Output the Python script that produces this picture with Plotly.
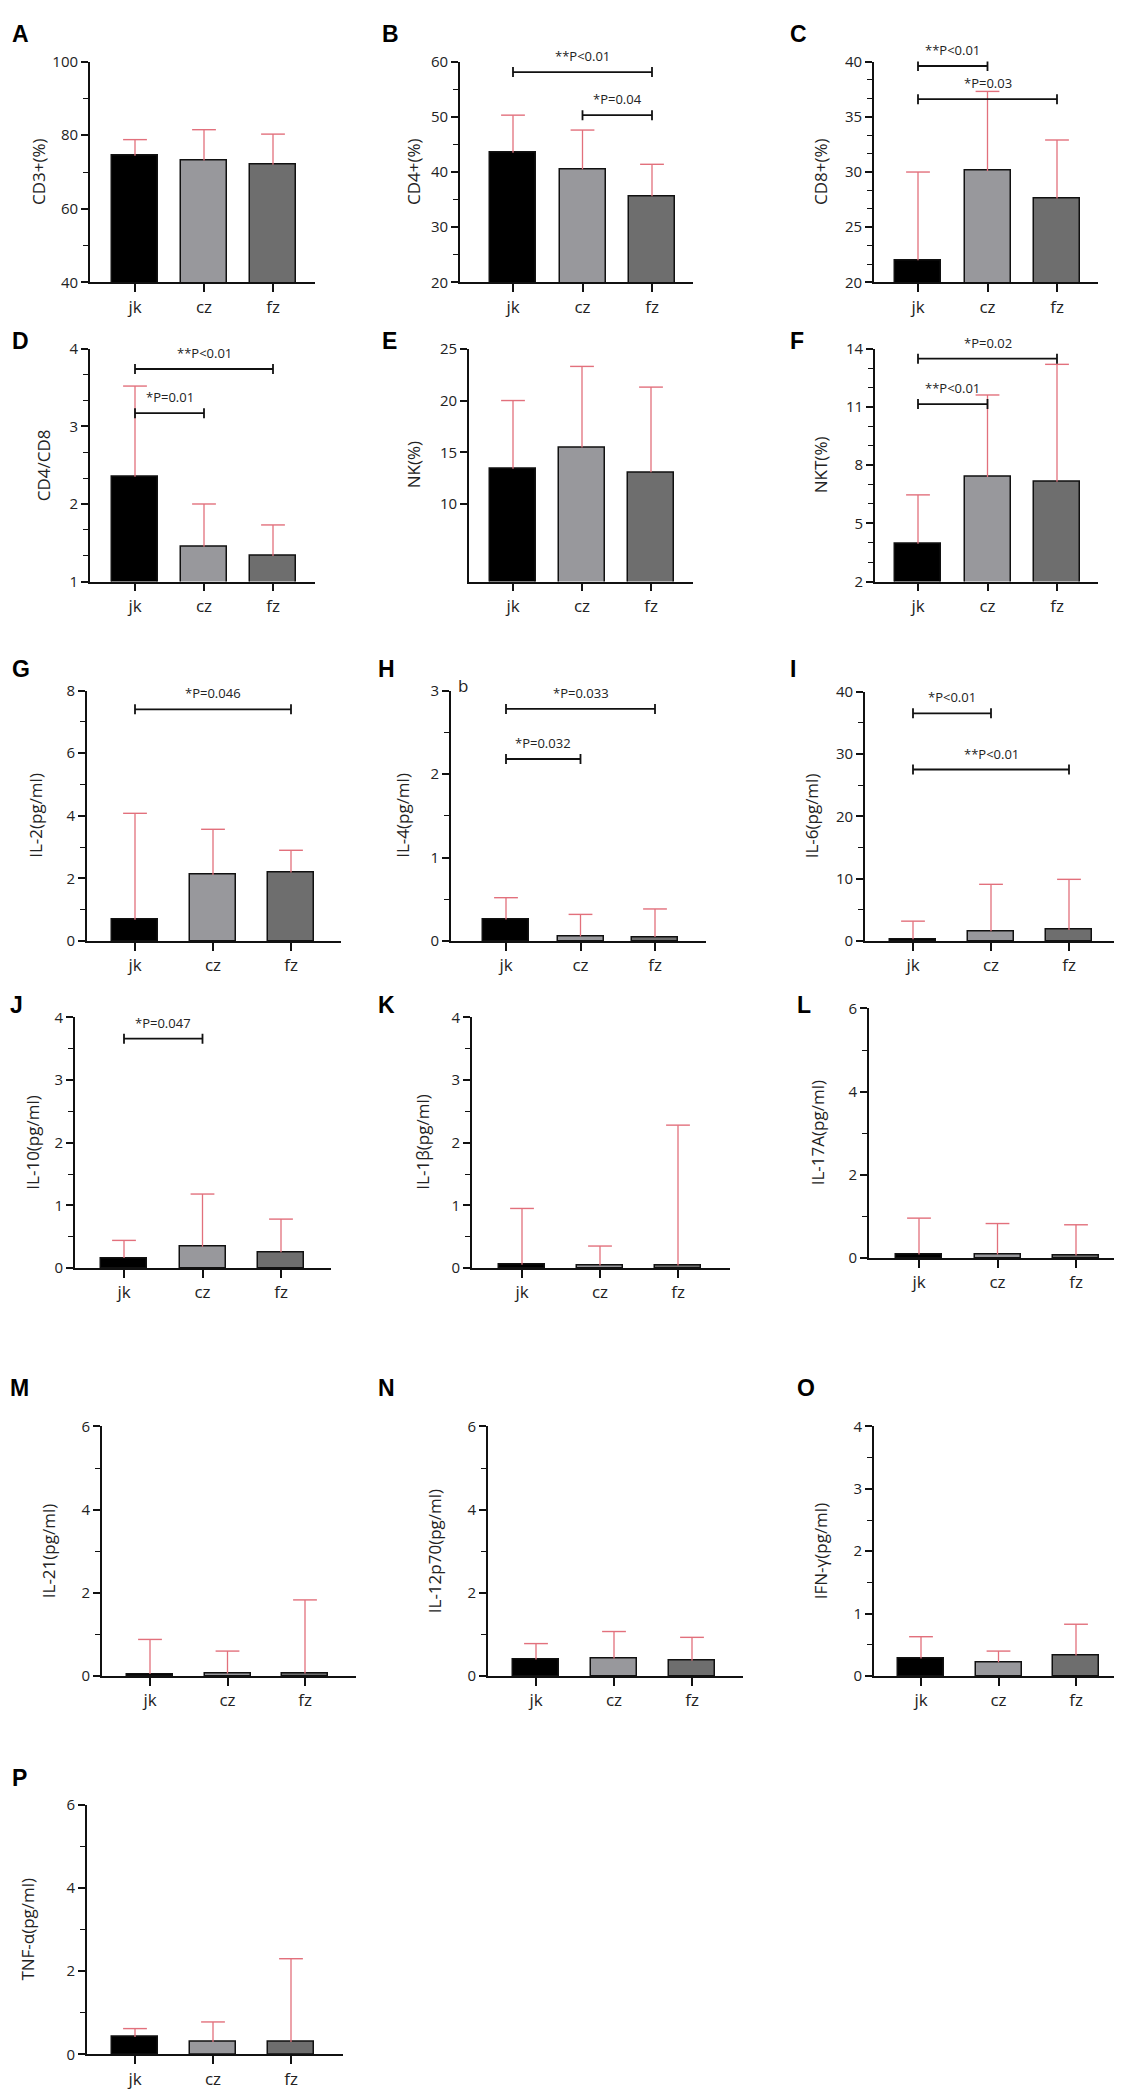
import plotly.graph_objects as go

W, H = 1122, 2096
FONT = "Open Sans"

categories = ["jk", "cz", "fz"]
bar_colors = ["#000000", "#98989c", "#6e6e6e"]
err_color = "#e2707c"

panel_letters = ["A", "B", "C", "D", "E", "F", "G", "H", "I", "J", "K", "L", "M", "N", "O", "P"]
y_titles = ["CD3+(%)", "CD4+(%)", "CD8+(%)", "CD4/CD8", "NK(%)", "NKT(%)",
            "IL-2(pg/ml)", "IL-4(pg/ml)", "IL-6(pg/ml)", "IL-10(pg/ml)", "IL-1β(pg/ml)",
            "IL-17A(pg/ml)", "IL-21(pg/ml)", "IL-12p70(pg/ml)", "IFN-γ(pg/ml)", "TNF-α(pg/ml)"]

# mean values (jk, cz, fz) and SD (upper error) per panel
mean_A = [74.4, 73.1, 72.0];   sd_A = [4.4, 8.4, 8.3]
mean_B = [43.5, 40.5, 35.6];   sd_B = [6.8, 7.1, 5.8]
mean_C = [22.0, 30.1, 27.6];   sd_C = [8.0, 7.2, 5.3]
mean_D = [2.35, 1.45, 1.33];   sd_D = [1.17, 0.55, 0.40]
mean_E = [13.4, 15.45, 13.06]; sd_E = [6.6, 7.85, 8.24]
mean_F = [3.95, 7.39, 7.15];   sd_F = [2.52, 4.23, 6.05]
mean_G = [0.68, 2.11, 2.19];   sd_G = [3.40, 1.46, 0.71]
mean_H = [0.26, 0.056, 0.048]; sd_H = [0.26, 0.264, 0.337]
mean_I = [0.3, 1.6, 1.8];      sd_I = [2.9, 7.5, 8.1]
mean_J = [0.16, 0.34, 0.25];   sd_J = [0.28, 0.84, 0.53]
mean_K = [0.05, 0.04, 0.04];   sd_K = [0.90, 0.31, 2.24]
mean_L = [0.087, 0.087, 0.06]; sd_L = [0.873, 0.743, 0.74]
mean_M = [0.05, 0.06, 0.06];   sd_M = [0.83, 0.54, 1.77]
mean_N = [0.40, 0.42, 0.37];   sd_N = [0.38, 0.65, 0.56]
mean_O = [0.28, 0.22, 0.33];   sd_O = [0.35, 0.18, 0.50]
mean_P = [0.42, 0.30, 0.30];   sd_P = [0.20, 0.48, 2.0]

# y-axis ranges and tick steps
y_range = {"A": [40, 100], "B": [20, 60], "C": [20, 40], "D": [1, 4], "E": [2.5, 25],
           "F": [2, 14], "G": [0, 8], "H": [0, 3], "I": [0, 40], "J": [0, 4], "K": [0, 4],
           "L": [0, 6], "M": [0, 6], "N": [0, 6], "O": [0, 4], "P": [0, 6]}
y_dtick = {"A": 20, "B": 10, "C": 5, "D": 1, "E": 5, "F": 3, "G": 2, "H": 1, "I": 10,
           "J": 1, "K": 1, "L": 2, "M": 2, "N": 2, "O": 1, "P": 2}
y_minor = {"A": 10, "B": 5, "C": 5 / 3, "D": 1 / 3, "E": None, "F": 1, "G": 1, "H": 0.5,
           "I": 5, "J": 0.5, "K": 0.5, "L": 1, "M": 1, "N": 1, "O": 0.5, "P": 1}
y_tickvals = {"E": [10, 15, 20, 25]}

# significance brackets: (group i, group j, y level, label)
brackets_B = [(0, 2, 58.1, "**P<0.01"), (1, 2, 50.3, "*P=0.04")]
brackets_C = [(0, 1, 39.6, "**P<0.01"), (0, 2, 36.6, "*P=0.03")]
brackets_D = [(0, 2, 3.74, "**P<0.01"), (0, 1, 3.17, "*P=0.01")]
brackets_F = [(0, 2, 13.49, "*P=0.02"), (0, 1, 11.15, "**P<0.01")]
brackets_G = [(0, 2, 7.4, "*P=0.046")]
brackets_H = [(0, 2, 2.78, "*P=0.033"), (0, 1, 2.18, "*P=0.032")]
brackets_I = [(0, 1, 36.5, "*P<0.01"), (0, 2, 27.5, "**P<0.01")]
brackets_J = [(0, 1, 3.66, "*P=0.047")]

means = {"A": mean_A, "B": mean_B, "C": mean_C, "D": mean_D, "E": mean_E, "F": mean_F,
         "G": mean_G, "H": mean_H, "I": mean_I, "J": mean_J, "K": mean_K, "L": mean_L,
         "M": mean_M, "N": mean_N, "O": mean_O, "P": mean_P}
sds = {"A": sd_A, "B": sd_B, "C": sd_C, "D": sd_D, "E": sd_E, "F": sd_F,
       "G": sd_G, "H": sd_H, "I": sd_I, "J": sd_J, "K": sd_K, "L": sd_L,
       "M": sd_M, "N": sd_N, "O": sd_O, "P": sd_P}
brackets = {"B": brackets_B, "C": brackets_C, "D": brackets_D, "F": brackets_F,
            "G": brackets_G, "H": brackets_H, "I": brackets_I, "J": brackets_J}

# layout geometry (pixels)
geom = {
    "A": dict(x0=82, x1=307, c0=127, c2=265, top=43, bot=266, tx=30, lx=2, ly=15),
    "B": dict(x0=452, x1=685, c0=505, c2=644, top=43, bot=266, tx=405, lx=372, ly=15),
    "C": dict(x0=866, x1=1090, c0=910, c2=1049, top=43, bot=266, tx=812, lx=780, ly=15),
    "D": dict(x0=82, x1=307, c0=127, c2=265, top=333, bot=568, tx=35, lx=2, ly=325),
    "E": dict(x0=461, x1=685, c0=505, c2=643, top=333, bot=568, tx=405, lx=372, ly=325),
    "F": dict(x0=867, x1=1090, c0=910, c2=1049, top=333, bot=568, tx=812, lx=780, ly=325),
    "G": dict(x0=79, x1=333, c0=127, c2=283, top=678, bot=931, tx=28, lx=2, ly=656),
    "H": dict(x0=443, x1=698, c0=498, c2=647, top=678, bot=931, tx=395, lx=368, ly=656),
    "I": dict(x0=857, x1=1110, c0=905, c2=1061, top=679, bot=931, tx=803, lx=780, ly=656),
    "J": dict(x0=67, x1=323, c0=116, c2=273, top=1008, bot=1261, tx=25, lx=0, ly=996),
    "K": dict(x0=464, x1=722, c0=514, c2=670, top=1008, bot=1261, tx=415, lx=368, ly=996),
    "L": dict(x0=861, x1=1118, c0=911, c2=1068, top=999, bot=1251, tx=809, lx=787, ly=996),
    "M": dict(x0=94, x1=348, c0=142, c2=297, top=1421, bot=1673, tx=40, lx=0, ly=1382),
    "N": dict(x0=480, x1=735, c0=528, c2=684, top=1421, bot=1673, tx=426, lx=368, ly=1382),
    "O": dict(x0=866, x1=1118, c0=913, c2=1068, top=1421, bot=1673, tx=812, lx=787, ly=1382),
    "P": dict(x0=79, x1=335, c0=127, c2=283, top=1803, bot=2055, tx=20, lx=2, ly=1776),
}

BAR_PX = 46

fig = go.Figure()
annotations = []
shapes = []
layout_axes = {}

for n, key in enumerate(panel_letters, start=1):
    g = geom[key]
    s = (g["c2"] - g["c0"]) / 2.0
    xr = [(g["x0"] - g["c0"]) / s, 2 + (g["x1"] - g["c2"]) / s]
    xname = "x" if n == 1 else f"x{n}"
    yname = "y" if n == 1 else f"y{n}"
    xa = "xaxis" if n == 1 else f"xaxis{n}"
    ya = "yaxis" if n == 1 else f"yaxis{n}"

    m = means[key]
    sd = sds[key]
    tops = [a + b for a, b in zip(m, sd)]

    fig.add_trace(go.Bar(
        x=[0, 1, 2], y=m, width=[BAR_PX / s] * 3,
        marker=dict(color=bar_colors, line=dict(color="#111111", width=1.5)),
        xaxis=xname, yaxis=yname, showlegend=False, hoverinfo="skip",
    ))
    # upper-only error bars: vertical stem from bar top to mean+SD, cap at the end
    fig.add_trace(go.Scatter(
        x=[0, 1, 2], y=tops, mode="markers",
        marker=dict(symbol="line-ew", size=17, color=err_color,
                    line=dict(color=err_color, width=1.4)),
        error_y=dict(type="data", symmetric=False, array=[0, 0, 0], arrayminus=sd,
                     color=err_color, thickness=1.3, width=0),
        xaxis=xname, yaxis=yname, showlegend=False, hoverinfo="skip", cliponaxis=False,
    ))

    layout_axes[xa] = dict(
        domain=[g["x0"] / W, g["x1"] / W], range=xr, anchor=yname,
        tickvals=[0, 1, 2], ticktext=categories, ticks="outside", ticklen=8,
        tickwidth=1.6, tickcolor="#111111", showline=True, linecolor="#111111",
        linewidth=1.8, showgrid=False, zeroline=False, fixedrange=True,
        tickfont=dict(family=FONT, size=17, color="#222222"),
    )
    yr = y_range[key]
    yaxis = dict(
        domain=[1 - g["bot"] / H, 1 - g["top"] / H], range=yr, anchor=xname,
        ticks="outside", ticklen=7,
        tickwidth=1.6, tickcolor="#111111", showline=True, linecolor="#111111",
        linewidth=1.8, showgrid=False, zeroline=False, fixedrange=True,
        tickfont=dict(family=FONT, size=15, color="#222222"),
    )
    if key in y_tickvals:
        yaxis["tickvals"] = y_tickvals[key]
    else:
        yaxis["dtick"] = y_dtick[key]
        yaxis["tick0"] = yr[0]
    if y_minor[key]:
        yaxis["minor"] = dict(dtick=y_minor[key], tick0=yr[0], ticks="outside", ticklen=5,
                              tickwidth=1.4, tickcolor="#111111", showgrid=False)
    layout_axes[ya] = yaxis

    # y-axis title
    annotations.append(dict(
        text=y_titles[n - 1], x=g["tx"] / W, y=1 - (g["top"] + g["bot"]) / 2 / H,
        xref="paper", yref="paper", textangle=-90, showarrow=False,
        xanchor="center", yanchor="middle",
        font=dict(family=FONT, size=17, color="#222222"),
    ))
    # panel letter
    annotations.append(dict(
        text=f"<b>{key}</b>", x=g["lx"] / W, y=1 - g["ly"] / H, xref="paper", yref="paper",
        showarrow=False, xanchor="left", yanchor="middle",
        font=dict(family="Liberation Sans", size=23, color="#000000"),
    ))

    for (i, j, yv, label) in brackets.get(key, []):
        line = dict(color="#111111", width=1.8)
        shapes.append(dict(type="line", xref=xname, yref=yname, x0=i, x1=j, y0=yv, y1=yv, line=line))
        for xx in (i, j):
            shapes.append(dict(type="line", xref=xname, yref=yname, x0=xx, x1=xx,
                               ysizemode="pixel", yanchor=yv, y0=-5, y1=5, line=line))
        annotations.append(dict(
            text=label, x=(i + j) / 2, y=yv, xref=xname, yref=yname, showarrow=False,
            xanchor="center", yanchor="bottom", yshift=5,
            font=dict(family=FONT, size=13, color="#222222"),
        ))

# small "b" mark in panel H
annotations.append(dict(text="b", x=455 / W, y=1 - 673 / H, xref="paper", yref="paper",
                        showarrow=False, xanchor="center", yanchor="middle",
                        font=dict(family=FONT, size=17, color="#222222")))

fig.update_layout(
    width=W, height=H, margin=dict(l=0, r=0, t=0, b=0),
    paper_bgcolor="white", plot_bgcolor="white",
    annotations=annotations, shapes=shapes, bargap=0, **layout_axes,
)

fig.write_html("out.html")
